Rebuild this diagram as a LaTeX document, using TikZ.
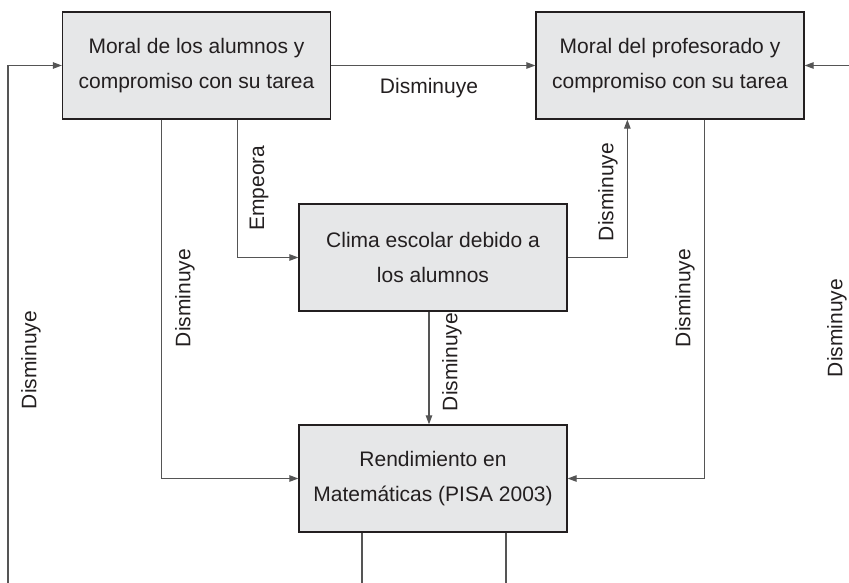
\documentclass[tikz,border=0pt]{standalone}
\usepackage{fontspec}
\setmainfont{Liberation Sans}
\usetikzlibrary{arrows.meta}
\definecolor{boxfill}{RGB}{230,231,232}
\definecolor{linecol}{RGB}{85,85,85}
\definecolor{edgecol}{RGB}{35,31,32}
\begin{document}
\begin{tikzpicture}[x=1pt,y=-1pt,
 box/.style={draw=edgecol,line width=1.3pt,fill=boxfill,minimum width=268pt,minimum height=107pt,align=center,font=\fontsize{21}{35}\selectfont,inner sep=0pt,text=edgecol},
 conn/.style={draw=linecol,line width=1.1pt,-{Triangle[length=9pt,width=6.5pt]}},
 plain/.style={draw=linecol,line width=1.1pt},
 lbl/.style={font=\fontsize{21}{25}\selectfont,inner sep=0pt,text=edgecol},
 vlbl/.style={lbl,rotate=90}]
\useasboundingbox (0,0) rectangle (849,583);
\node[box] (A) at (196.5,65.5) {Moral de los alumnos y\\compromiso con su tarea};
\node[box] (B) at (670,65.5) {Moral del profesorado y\\compromiso con su tarea};
\node[box] (C) at (433,257.5) {Clima escolar debido a\\los alumnos};
\node[box] (D) at (433,478.5) {Rendimiento en\\Matemáticas (PISA 2003)};
\coordinate (lb) at (8,583);
\coordinate (rb) at (849,65.5);
\draw[conn] (A.east) -- (B.west);
\draw[conn] (lb) |- (A.west);
\draw[conn] (rb) -- (B.east);
\draw[conn] ([xshift=100pt]A.south west) |- (D.west);
\draw[conn] ([xshift=176pt]A.south west) |- (C.west);
\draw[conn] (C.east) -| ([xshift=92pt]B.south west);
\draw[conn] ([xshift=-100pt]B.south east) |- (D.east);
\draw[conn] ([xshift=-4pt]C.south) -- ([xshift=-4pt]D.north);
\draw[plain] ([xshift=-71pt]D.south) -- ++(0,51);
\draw[plain] ([xshift=73pt]D.south) -- ++(0,51);
\node[lbl] (t1) at (429,88) {Disminuye};
\node[vlbl] (t2) at (259,188) {Empeora};
\node[vlbl] (t3) at (185,298) {Disminuye};
\node[vlbl] (t4) at (608,192) {Disminuye};
\node[vlbl] (t5) at (452,362) {Disminuye};
\node[vlbl] (t6) at (685,298) {Disminuye};
\node[vlbl] (t7) at (31,360) {Disminuye};
\node[vlbl] (t8) at (837,328) {Disminuye};
\end{tikzpicture}
\end{document}
